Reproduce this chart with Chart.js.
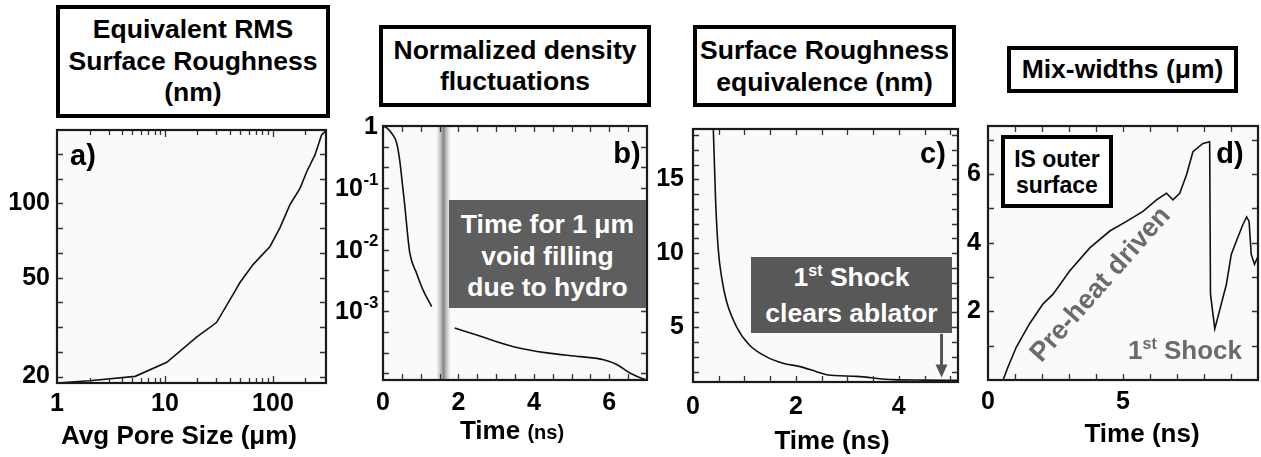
<!DOCTYPE html>
<html><head><meta charset="utf-8">
<script src="https://cdn.jsdelivr.net/npm/chart.js@4.4.1/dist/chart.umd.min.js"></script>
<style>
html,body{margin:0;padding:0;background:#fff;width:1261px;height:457px;overflow:hidden;}
body{position:relative;font-family:"Liberation Sans",Arial,Helvetica,sans-serif;font-weight:bold;color:#000;}
canvas{position:absolute;z-index:1;}
.box{position:absolute;z-index:3;box-sizing:border-box;border:4px solid #000;background:#fff;display:flex;flex-direction:column;align-items:center;justify-content:center;text-align:center;font-size:26.5px;white-space:nowrap;}
.gbox{position:absolute;z-index:3;box-sizing:border-box;display:flex;flex-direction:column;align-items:center;justify-content:center;text-align:center;font-size:26.5px;color:#fff;white-space:nowrap;}
.c{position:absolute;z-index:3;transform:translate(-50%,-50%);white-space:nowrap;}
.sup{font-size:16px;position:relative;top:-10px;}
</style>
</head><body>

<div class="box" style="left:56px;top:5px;width:274px;height:113px;line-height:31.5px;"><div>Equivalent RMS</div><div>Surface Roughness</div><div>(nm)</div></div>
<div class="box" style="left:379px;top:25px;width:272px;height:82px;line-height:31px;"><div>Normalized density</div><div>fluctuations</div></div>
<div class="box" style="left:693px;top:25px;width:263px;height:82px;line-height:32px;"><div>Surface Roughness</div><div>equivalence (nm)</div></div>
<div class="box" style="left:1007px;top:46px;width:231px;height:47px;"><div>Mix-widths (μm)</div></div>

<div class="c" style="left:83px;top:155px;font-size:29px;">a)</div>
<div class="c" style="left:627px;top:153px;font-size:29px;">b)</div>
<div class="c" style="left:933px;top:153px;font-size:29px;">c)</div>
<div class="c" style="left:1230px;top:153px;font-size:29px;">d)</div>

<div class="gbox" style="left:449px;top:200px;width:197px;height:108px;background:#5e5e5e;line-height:31.5px;padding-top:5px;"><div>Time for 1 μm</div><div>void filling</div><div>due to hydro</div></div>
<div class="gbox" style="left:751px;top:257px;width:201px;height:76px;background:#585858;line-height:32px;"><div>1<span class="sup">st</span> Shock</div><div>clears ablator</div></div>

<div class="box" style="left:1001px;top:135px;width:112px;height:73px;line-height:26px;font-size:23px;"><div>IS outer</div><div>surface</div></div>
<div class="c" style="left:1100px;top:284px;font-size:27px;color:#6b6b6b;transform:translate(-50%,-50%) rotate(-48.5deg);">Pre-heat driven</div>
<div class="c" style="left:1185px;top:350px;font-size:26px;color:#6b6b6b;">1<span class="sup">st</span> Shock</div>

<div class="c" style="left:179px;top:435px;font-size:26px;">Avg Pore Size (μm)</div>
<div class="c" style="left:512px;top:430px;font-size:26px;">Time <span style="font-size:20px">(ns)</span></div>
<div class="c" style="left:832px;top:440px;font-size:26px;">Time (ns)</div>
<div class="c" style="left:1142px;top:433px;font-size:26px;">Time (ns)</div>

<script>
// ---------- DATA ----------
// a) Equivalent RMS surface roughness (nm) vs avg pore size (um)
const A_PORE = [1, 2, 5.3, 10.4, 19.6, 30, 42.9, 49.5, 65.7, 94, 116, 144, 178, 205, 245, 282, 310];
const A_RMS  = [18.8, 19.2, 20, 22.8, 28.8, 33, 43, 47.9, 56.7, 67, 79.6, 99, 115, 134, 157, 189, 197];
const A_XLABELS = [1, 10, 100];
const A_YLABELS = [20, 50, 100];

// b) Normalized density fluctuations vs time (ns), two segments around the void-filling band
const B_T1 = [0, 0.1, 0.22, 0.36, 0.44, 0.52, 0.58, 0.64, 0.71, 0.89, 1.06, 1.29];
const B_D1 = [1, 0.93, 0.776, 0.537, 0.288, 0.107, 0.050, 0.0209, 0.0089, 0.00417, 0.00224, 0.0012];
const B_T2 = [1.9, 2.57, 3.46, 4.35, 5.23, 5.85, 6.21, 6.56, 6.91, 7.0];
const B_D2 = [5.4e-4, 4.0e-4, 2.7e-4, 2.14e-4, 1.86e-4, 1.66e-4, 1.38e-4, 1.0e-4, 8.1e-5, 7.9e-5];
const B_XLABELS = [0, 2, 4, 6];
const B_YLABELS = [1, 0.1, 0.01, 0.001];
const B_YBASE   = ['1', '10', '10', '10'];
const B_YEXP    = ['', '-1', '-2', '-3'];
const B_BAND    = [1.42, 1.79];

// c) Surface roughness equivalence (nm) vs time (ns)
const C_T = [0.39, 0.44, 0.49, 0.56, 0.65, 0.85, 1.1, 1.43, 1.75, 2.08, 2.4, 2.6, 3.18, 3.89, 4.5, 5.15];
const C_R = [19, 13.5, 10.3, 8.3, 6.77, 5.0, 3.78, 3.0, 2.57, 2.34, 2.0, 1.79, 1.68, 1.46, 1.43, 1.41];
const C_XLABELS = [0, 2, 4];
const C_YLABELS = [5, 10, 15];
const C_ARROW = {x: 4.83, from: 4.56, to: 1.6};

// d) Mix-widths (um) vs time (ns)
const D_T = [0, 0.56, 0.74, 1.05, 1.54, 2.04, 2.41, 3.03, 3.77, 4.51, 5.13, 5.74, 6.24, 6.61, 6.85, 7.1, 7.35, 7.59, 7.96, 8.21, 8.24, 8.4, 8.83, 9.01, 9.2, 9.44, 9.58, 9.67, 9.75, 9.87, 10];
const D_W = [0, 0, 0.38, 0.96, 1.64, 2.22, 2.5, 3.18, 3.85, 4.34, 4.62, 4.91, 5.25, 5.44, 5.25, 5.44, 5.97, 6.65, 6.89, 6.94, 2.5, 1.49, 2.79, 3.66, 4.05, 4.53, 4.75, 4.62, 3.66, 3.37, 3.6];
const D_XLABELS = [0, 5];
const D_YLABELS = [2, 4, 6];

// ---------- helpers ----------
const FAM = '"Liberation Sans", Arial, sans-serif';
const FONT = {family: FAM, size: 25, weight: 'bold'};
const pts = (xs, ys) => xs.map((x, i) => ({x: x, y: ys[i]}));
function steps(a, b, s) { const r = []; for (let v = a; v <= b + 1e-9; v += s) r.push(+v.toFixed(6)); return r; }

const framePlugin = {
  id: 'frame',
  beforeDatasetsDraw(chart, args, o) {
    const {ctx, chartArea: a} = chart;
    ctx.save();
    ctx.fillStyle = '#fafafa';
    ctx.fillRect(a.left, a.top, a.right - a.left, a.bottom - a.top);
    if (o.band) {
      const xs = chart.scales.x;
      const x0 = xs.getPixelForValue(o.band[0]), x1 = xs.getPixelForValue(o.band[1]);
      const g = ctx.createLinearGradient(x0, 0, x1, 0);
      g.addColorStop(0, 'rgba(240,240,240,0.6)');
      g.addColorStop(0.5, '#858585');
      g.addColorStop(1, 'rgba(240,240,240,0.6)');
      ctx.fillStyle = g;
      ctx.fillRect(x0, a.top, x1 - x0, a.bottom - a.top);
    }
    ctx.restore();
  },
  afterDatasetsDraw(chart, args, o) {
    const {ctx, chartArea: a} = chart;
    const xs = chart.scales.x, ys = chart.scales.y;
    ctx.save();
    ctx.strokeStyle = '#333';
    ctx.lineWidth = 1.3;
    ctx.beginPath();
    (o.xt || []).forEach(([v, len]) => {
      const p = Math.round(xs.getPixelForValue(v)) + 0.5;
      if (p < a.left + 2 || p > a.right - 2) return;
      ctx.moveTo(p, a.bottom); ctx.lineTo(p, a.bottom - len);
      ctx.moveTo(p, a.top); ctx.lineTo(p, a.top + len);
    });
    (o.yt || []).forEach(([v, len]) => {
      const p = Math.round(ys.getPixelForValue(v)) + 0.5;
      if (p < a.top + 2 || p > a.bottom - 2) return;
      ctx.moveTo(a.left, p); ctx.lineTo(a.left + len, p);
      ctx.moveTo(a.right, p); ctx.lineTo(a.right - len, p);
    });
    ctx.stroke();
    ctx.strokeStyle = '#1a1a1a';
    ctx.lineWidth = 2.2;
    ctx.strokeRect(a.left, a.top, a.right - a.left, a.bottom - a.top);
    if (o.arrow) {
      const x = xs.getPixelForValue(o.arrow.x);
      const y0 = ys.getPixelForValue(o.arrow.from), y1 = ys.getPixelForValue(o.arrow.to);
      ctx.strokeStyle = '#555'; ctx.fillStyle = '#555'; ctx.lineWidth = 3;
      ctx.beginPath(); ctx.moveTo(x, y0); ctx.lineTo(x, y1 - 10); ctx.stroke();
      ctx.beginPath(); ctx.moveTo(x - 6, y1 - 13); ctx.lineTo(x + 6, y1 - 13); ctx.lineTo(x, y1); ctx.closePath(); ctx.fill();
    }
    if (o.powLabels) {
      const L = o.powLabels;
      ctx.fillStyle = '#000';
      ctx.textBaseline = 'middle';
      L.values.forEach((v, i) => {
        const y = ys.getPixelForValue(v);
        ctx.font = 'bold 25px ' + FAM;
        const wb = ctx.measureText(L.base[i]).width;
        ctx.font = 'bold 17px ' + FAM;
        const we = L.exp[i] ? ctx.measureText(L.exp[i]).width : 0;
        const x0 = a.left - L.pad - wb - we;
        ctx.font = 'bold 25px ' + FAM;
        ctx.textAlign = 'left';
        ctx.fillText(L.base[i], x0, y + 1);
        if (L.exp[i]) { ctx.font = 'bold 17px ' + FAM; ctx.fillText(L.exp[i], x0 + wb + 0.5, y - 8); }
      });
    }
    ctx.restore();
  }
};

function panel(L, T, R, B, yW, spec) {
  const pt = 20, pr = 3;
  const w = (R - L) + yW + pr, h = 457 - T + pt;
  const cv = document.createElement('canvas');
  cv.width = w; cv.height = h;
  cv.style.left = (L - yW) + 'px'; cv.style.top = (T - pt) + 'px';
  cv.style.width = w + 'px'; cv.style.height = h + 'px';
  document.body.appendChild(cv);
  const mk = (ax) => ({
    type: ax.type, min: ax.min, max: ax.max,
    grid: {display: false, drawTicks: false}, border: {display: false},
    ticks: {display: !ax.hideLabels, font: FONT, color: '#000', padding: ax.pad, maxRotation: 0, autoSkip: false,
            callback: (v) => { const i = ax.labels.findIndex(l => Math.abs(l - v) < 1e-12); return i < 0 ? '' : String(ax.labels[i]); }},
    afterBuildTicks: (s) => { s.ticks = ax.labels.map(v => ({value: v})); }
  });
  const xs = mk(spec.x), ys = mk(spec.y);
  xs.afterFit = (s) => { s.height = 457 - B; };
  ys.afterFit = (s) => { s.width = yW; };
  new Chart(cv, {
    type: 'line',
    data: {datasets: spec.sets.map(d => ({data: d, borderColor: '#111', borderWidth: 1.6, pointRadius: 0, fill: false,
      tension: spec.smooth ? 0.4 : 0, cubicInterpolationMode: spec.smooth ? 'monotone' : 'default'}))},
    options: {
      responsive: false, animation: false, devicePixelRatio: 1,
      layout: {padding: {top: pt, right: pr, left: 0, bottom: 0}},
      plugins: {legend: {display: false}, tooltip: {enabled: false}, frame: spec.frame},
      scales: {x: xs, y: ys}
    },
    plugins: [framePlugin]
  });
}

// tick marks
const aXT = []; [1, 10, 100].forEach(d => { for (let m = 1; m <= 9; m++) aXT.push([d * m, m === 1 ? 7 : 5]); });
const aYT = []; for (let k = 12; k <= 23; k++) aYT.push([Math.pow(10, k / 10), 6]);
const bXT = steps(0, 7, 0.5).map(v => [v, 6]);
const bYT = []; for (let k = -13; k <= 0; k++) bYT.push([Math.pow(10, k / 3), 6]);
const cXT = steps(0, 5, 0.5).map(v => [v, 6]);
const cYT = steps(2, 18, 1).map(v => [v, 6]);
const dXT = steps(0, 10, 1).map(v => [v, 6]);
const dYT = steps(1, 7, 1).map(v => [v, 6]);

panel(57, 128, 326, 383, 57, {
  x: {type: 'logarithmic', min: 1, max: 310, labels: A_XLABELS, pad: 6},
  y: {type: 'logarithmic', min: 18.8, max: 198, labels: A_YLABELS, pad: 7},
  sets: [pts(A_PORE, A_RMS)], smooth: false,
  frame: {xt: aXT, yt: aYT}
});
panel(383, 126, 647, 380, 60, {
  x: {type: 'linear', min: 0, max: 7, labels: B_XLABELS, pad: 8},
  y: {type: 'logarithmic', min: 7.8e-5, max: 1, labels: B_YLABELS, pad: 4, hideLabels: true},
  sets: [pts(B_T1, B_D1), pts(B_T2, B_D2)], smooth: true,
  frame: {xt: bXT, yt: bYT, band: B_BAND, powLabels: {values: B_YLABELS, base: B_YBASE, exp: B_YEXP, pad: 5}}
});
panel(693, 125, 958, 382, 60, {
  x: {type: 'linear', min: 0, max: 5.15, labels: C_XLABELS, pad: 10},
  y: {type: 'linear', min: 1.3, max: 18.4, labels: C_YLABELS, pad: 9},
  sets: [pts(C_T, C_R)], smooth: true,
  frame: {xt: cXT, yt: cYT, arrow: C_ARROW}
});
panel(988, 124, 1258, 380, 60, {
  x: {type: 'linear', min: 0, max: 10, labels: D_XLABELS, pad: 7},
  y: {type: 'linear', min: 0, max: 7.4, labels: D_YLABELS, pad: 7},
  sets: [pts(D_T, D_W)], smooth: false,
  frame: {xt: dXT, yt: dYT}
});
</script>
</body></html>
